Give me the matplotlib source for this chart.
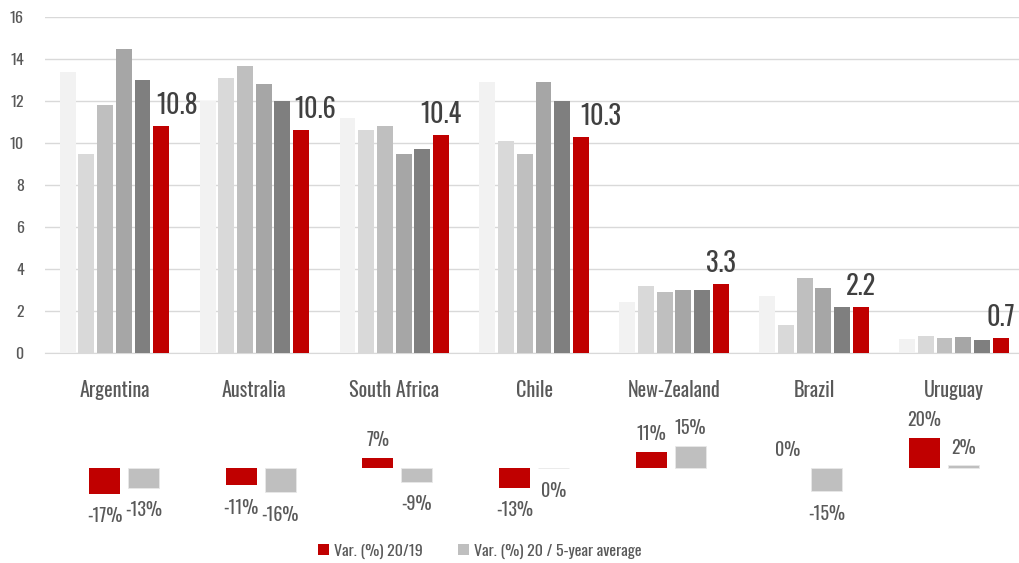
import numpy as np
import matplotlib
matplotlib.use("Agg")
import matplotlib.pyplot as plt
from matplotlib.patches import Patch
from matplotlib import font_manager as fm

# ---------------- data ----------------
countries = ["Argentina", "Australia", "South Africa", "Chile", "New-Zealand", "Brazil", "Uruguay"]
year1 = [13.4, 12.0, 11.2, 12.9, 2.4, 2.7, 0.65]
year2 = [9.5, 13.1, 10.6, 10.1, 3.2, 1.3, 0.78]
year3 = [11.8, 13.7, 10.8, 9.5, 2.9, 3.55, 0.68]
year4 = [14.5, 12.8, 9.5, 12.9, 3.0, 3.1, 0.73]
year5 = [13.0, 12.0, 9.7, 12.0, 3.0, 2.2, 0.60]
year2020 = [10.8, 10.6, 10.4, 10.3, 3.3, 2.2, 0.7]
var_20_19 = [-17, -11, 7, -13, 11, 0.0, 20]
var_20_5y = [-13, -16, -9, -0.2, 15, -15, 2]
yticks = [0, 2, 4, 6, 8, 10, 12, 14, 16]
legend_labels = ["Var. (%) 20/19", "Var. (%) 20 / 5-year average"]

# ---------------- style ----------------
names = {f.name for f in fm.fontManager.ttflist}
FONT = "DejaVu Sans"
for cand in ["Oswald", "Roboto Condensed", "Liberation Sans Narrow", "Open Sans Condensed", "Roboto"]:
    if cand in names:
        FONT = cand
        break
plt.rcParams["font.family"] = [FONT, "DejaVu Sans"]

grays = ["#F2F2F2", "#D9D9D9", "#BFBFBF", "#A6A6A6", "#7F7F7F"]
RED = "#C00000"
TXT = "#595959"
VAL = "#404040"
GRID = "#D9D9D9"
label_dx = [16, 14, 0, 20, 0, 0, 0]  # horizontal nudges (px) of value labels

W, H = 1019, 563
fig = plt.figure(figsize=(W / 100, H / 100), dpi=100)

# ---------------- main chart ----------------
ax = fig.add_axes([44.5 / W, (H - 352.7) / H, 979.3 / W, 335.4 / H])
x = np.arange(len(countries))
series = [year1, year2, year3, year4, year5, year2020]
colors = grays + [RED]
pitch = 0.1336
bw = 0.114
for i, (vals, c) in enumerate(zip(series, colors)):
    ax.bar(x + (i - 2.5) * pitch, vals, width=bw, color=c, zorder=3)
for i, v in enumerate(year2020):
    ax.annotate(f"{v:.1f}", (x[i] + 2.5 * pitch, v), xytext=(label_dx[i], 12),
                textcoords="offset pixels", ha="center", va="baseline",
                fontsize=19, color=VAL, zorder=4)
ax.set_xlim(-0.5, len(countries) - 0.5)
ax.set_ylim(0, 16)
ax.set_yticks(yticks)
ax.yaxis.grid(True, color=GRID, linewidth=1.0, zorder=0)
ax.set_axisbelow(True)
for s in ["top", "right", "left"]:
    ax.spines[s].set_visible(False)
ax.spines["bottom"].set_color(GRID)
ax.set_xticks(x)
ax.set_xticklabels(countries)
ax.tick_params(axis="x", length=0, pad=20, labelsize=14.5, labelcolor=TXT)
ax.tick_params(axis="y", length=0, pad=15, labelsize=11.5, labelcolor=TXT)

# ---------------- variation chart ----------------
ax2 = fig.add_axes([55.8 / W, (H - 513) / H, 956.6 / W, 90 / H])
p2 = 0.285
bw2 = 0.227
for vals, c, off, ec in [(var_20_19, RED, -0.5, "none"), (var_20_5y, "#BFBFBF", 0.5, "#E8E8E8")]:
    ax2.bar(x + off * p2, vals, width=bw2, color=c, edgecolor=ec, linewidth=0.6)
    for i, v in enumerate(vals):
        lab = f"{int(round(v))}%"
        dy = 11.5 if v >= 0 else -29
        ax2.annotate(lab, (x[i] + off * p2, v), xytext=(0, dy), textcoords="offset pixels",
                     ha="center", va="baseline", fontsize=13, color=TXT)
ax2.set_xlim(-0.5, len(countries) - 0.5)
ax2.set_ylim(-30, 30)
ax2.axis("off")

# ---------------- legend ----------------
handles = [Patch(facecolor=RED), Patch(facecolor="#BFBFBF")]
fig.legend(handles, legend_labels, loc="center", bbox_to_anchor=(480 / W, 12 / H), ncol=2,
           frameon=False, fontsize=11.5, handlelength=0.7, handleheight=0.7,
           handletextpad=0.3, columnspacing=2.2, labelcolor=TXT)

fig.savefig("out.png", dpi=100)
